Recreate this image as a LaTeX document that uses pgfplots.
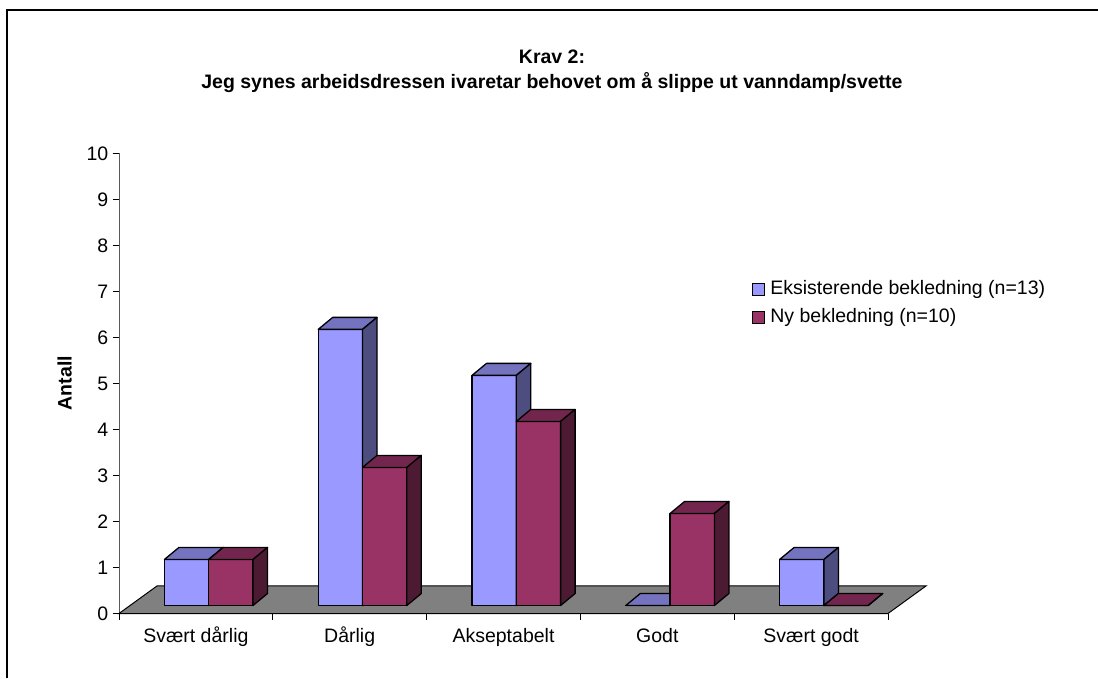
\documentclass[border=0pt]{standalone}
\usepackage{fontspec}
\setmainfont{Liberation Sans}
\usepackage{pgfplots}
\usepackage{pgfplotstable}
\pgfplotsset{compat=1.18}

\definecolor{bfront}{RGB}{153,153,255}
\definecolor{btop}{RGB}{115,115,191}
\definecolor{bside}{RGB}{77,77,128}
\definecolor{rfront}{RGB}{153,51,102}
\definecolor{rtop}{RGB}{115,38,77}
\definecolor{rside}{RGB}{77,26,51}
\definecolor{floorgray}{RGB}{128,128,128}

% antall svar per kategori
\pgfplotstableread{
x ex ny
0 1 1
1 6 3
2 5 4
3 0 2
4 1 0
}\svar

\newcommand\txt{\fontsize{19.5pt}{23pt}\selectfont}

% 3D-soyle tegnet ved datapunktet: #1 venstre kant (pt), #2 front, #3 topp, #4 side
\newcommand\barthreed[4]{%
  \pgfmathsetmacro\bB{8-\val*46.02}%
  \pgfmathsetmacro\bL{#1}%
  \pgfmathsetmacro\bR{#1+44.3}%
  \pgfmathsetmacro\bRR{\bR+14.5}%
  \pgfmathsetmacro\bLL{\bL+14.5}%
  \pgfmathsetmacro\bBB{\bB+12}%
  \filldraw[fill=#2,draw=black,line width=1.3pt,line join=round] (\bL pt,\bB pt) rectangle (\bR pt,8pt);
  \filldraw[fill=#3,draw=black,line width=1.3pt,line join=round] (\bL pt,8pt) -- (\bR pt,8pt) -- (\bRR pt,20pt) -- (\bLL pt,20pt) -- cycle;
  \filldraw[fill=#4,draw=black,line width=1.3pt,line join=round] (\bR pt,\bB pt) -- (\bRR pt,\bBB pt) -- (\bRR pt,20pt) -- (\bR pt,8pt) -- cycle;
}
\pgfdeclareplotmark{nothing}{}

\begin{document}
\txt
\begin{tikzpicture}[x=1pt,y=1pt]
\path[use as bounding box] (0,0) rectangle (1098,678);
\draw[line width=2.2pt] (7.3,0) -- (7.3,667.7) -- (1098,667.7);

\begin{axis}[
  at={(119pt,64.5pt)}, anchor=south west,
  scale only axis, width=769pt, height=460.2pt,
  xmin=-0.5, xmax=4.5, ymin=0, ymax=10,
  axis lines=left,
  x axis line style={-, line width=1.2pt, black},
  y axis line style={-, line width=1pt, black!65},
  xtick={-0.5,0.5,...,4.5},
  x tick label as interval,
  xticklabels={Svært dårlig,Dårlig,Akseptabelt,Godt,Svært godt},
  xticklabel style={text height=14pt, text depth=4.5pt, yshift=-2pt},
  ytick={0,...,10},
  yticklabel style={xshift=2.5pt},
  tick align=outside, major tick length=6.5pt,
  tick style={black, line width=1pt},
  tick label style={font=\txt},
  /pgf/number format/assume math mode=true,
  clip=false,
  legend cell align=left,
  legend style={draw=none, fill=none, font=\txt,
    at={(0.823,0.727)}, anchor=north west, inner sep=0pt, row sep=8pt,
    nodes={inner sep=1.5pt},
    /tikz/every odd column/.append style={column sep=4pt}},
  legend image code/.code={\draw[#1,draw=black,line width=0.8pt] (0pt,-6pt) rectangle (12pt,6pt);},
]
% gulv
\addplot[forget plot, fill=floorgray, draw=black, line width=1pt]
  coordinates {(-0.5,0) (4.5,0) (4.747,0.598) (-0.253,0.598)} -- cycle;

\addplot[forget plot, scatter, only marks, mark=nothing,
  visualization depends on={\thisrow{ex} \as \val},
  scatter/@pre marker code/.code={\barthreed{-31.5}{bfront}{btop}{bside}},
  scatter/@post marker code/.code={}] table[x=x, y=ex] {\svar};
\addplot[forget plot, scatter, only marks, mark=nothing,
  visualization depends on={\thisrow{ny} \as \val},
  scatter/@pre marker code/.code={\barthreed{12.8}{rfront}{rtop}{rside}},
  scatter/@post marker code/.code={}] table[x=x, y=ny] {\svar};

\addlegendimage{fill=bfront}
\addlegendentry{Eksisterende bekledning (n=13)}
\addlegendimage{fill=rfront}
\addlegendentry{Ny bekledning (n=10)}
\end{axis}

\node[font=\txt\bfseries, anchor=base] at (552,614.5) {Krav 2:};
\node[font=\txt\bfseries, anchor=base] at (552,589) {Jeg synes arbeidsdressen ivaretar behovet om å slippe ut vanndamp/svette};
\node[font=\txt\bfseries, rotate=90, anchor=base] at (71.7,295) {Antall};
\end{tikzpicture}
\end{document}
